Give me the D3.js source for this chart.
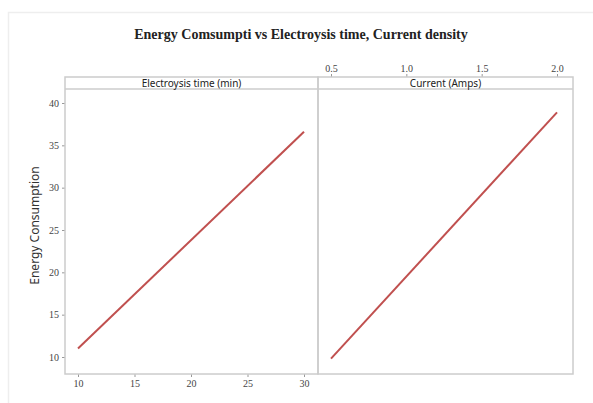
<html>
<head>
<meta charset="UTF-8"/>
<script src="https://d3js.org/d3.v7.min.js"></script>
<title>energy consumption</title>
<style>
body { margin: 0; background: #fff; }
.tick text { font-family: 'Liberation Serif', serif; font-size: 10px; fill: #444; }
.tick line { stroke: #999; }
.domain { display: none; }
</style>
</head>
<body>
<svg id='big' width=593 height=403></svg>
<script>
'use strict';

var title = 'Energy Comsumpti vs Electroysis time, Current density';
var yLabel = 'Energy Consumption';
var panelNames = ['Electroysis time (min)', 'Current (Amps)'];

// electrolysis time panel
var timeLevels = [10, 30];
var timeEnergy = [11.0, 36.6];
var timeTicks = [10, 15, 20, 25, 30];

// current panel
var currentLevels = [0.5, 2.0];
var currentEnergy = [9.8, 38.9];
var currentTicks = [0.5, 1.0, 1.5, 2.0];

var yTicks = [10, 15, 20, 25, 30, 35, 40];

var svg = d3.select('#big');

// faint outer frame
svg.append('path')
  .attr('d', 'M8.5,403 V12.5 H593')
  .attr('fill', 'none')
  .attr('stroke', '#eee')
  .attr('stroke-width', 1.5);

var frameTop = 77, stripH = 12, frameBottom = 374;
var frameLeft = 65, frameMid = 318, frameRight = 573;

var sy = d3.scaleLinear().domain([10, 40]).range([357, 103]);

var sxTime = d3.scaleLinear().domain([10, 30]).range([78, 304]);
var sxCur = d3.scaleLinear().domain([0.5, 2.0]).range([331, 557]);

svg.append('text')
  .attr('x', 301).attr('y', 39)
  .attr('text-anchor', 'middle')
  .attr('font-family', 'Liberation Serif, serif')
  .attr('font-weight', 'bold')
  .attr('font-size', 14)
  .attr('fill', '#222')
  .text(title);

svg.append('text')
  .attr('transform', 'translate(39,' + ((frameTop + frameBottom) / 2) + ') rotate(-90)')
  .attr('text-anchor', 'middle')
  .attr('font-family', 'Noto Sans, sans-serif')
  .attr('font-size', 12)
  .attr('fill', '#333')
  .text(yLabel);

// y axis
svg.append('g')
  .attr('transform', 'translate(' + frameLeft + ',0)')
  .call(d3.axisLeft(sy).tickValues(yTicks).tickSize(3).tickPadding(3).tickFormat(d3.format('d')));

// bottom axis for time
svg.append('g')
  .attr('transform', 'translate(0,' + frameBottom + ')')
  .call(d3.axisBottom(sxTime).tickValues(timeTicks).tickSize(3).tickPadding(3).tickFormat(d3.format('d')));

// top axis for current
svg.append('g')
  .attr('transform', 'translate(0,' + frameTop + ')')
  .call(d3.axisTop(sxCur).tickValues(currentTicks).tickSize(3).tickPadding(2).tickFormat(d3.format('.1f')));

// panel frames
var frames = [[frameLeft, frameMid], [frameMid, frameRight]];
frames.forEach(function(f, i){
  svg.append('rect')
    .attr('x', f[0]).attr('y', frameTop)
    .attr('width', f[1] - f[0]).attr('height', frameBottom - frameTop)
    .attr('fill', 'none')
    .attr('stroke', '#ccc')
    .attr('stroke-width', 1.5);
  svg.append('line')
    .attr('x1', f[0]).attr('x2', f[1])
    .attr('y1', frameTop + stripH).attr('y2', frameTop + stripH)
    .attr('stroke', '#ccc')
    .attr('stroke-width', 1.5);
  svg.append('text')
    .attr('x', (f[0] + f[1]) / 2).attr('y', frameTop + 9.8)
    .attr('text-anchor', 'middle')
    .attr('font-family', 'Noto Sans, sans-serif')
    .attr('font-size', 10)
    .attr('fill', '#222')
    .text(panelNames[i]);
});

var line = d3.line();

function drawSeries(xs, ys, sx){
  var pts = xs.map(function(x, i){ return [sx(x), sy(ys[i])]; });
  svg.append('path')
    .attr('d', line(pts))
    .attr('fill', 'none')
    .attr('stroke', '#c0504f')
    .attr('stroke-width', 2);
}

drawSeries(timeLevels, timeEnergy, sxTime);
drawSeries(currentLevels, currentEnergy, sxCur);
</script>
</body>
</html>
